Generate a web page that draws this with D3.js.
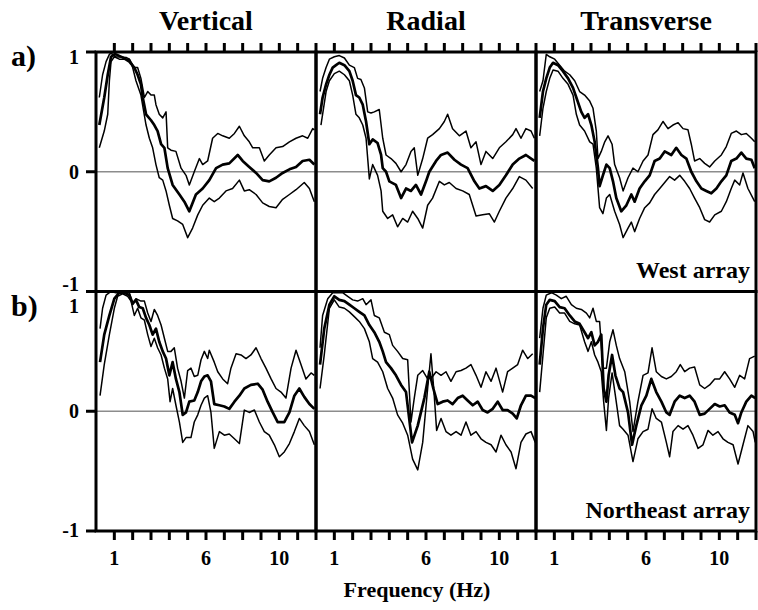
<!DOCTYPE html>
<html>
<head>
<meta charset="utf-8">
<script src="https://cdn.jsdelivr.net/npm/d3@7"></script>
<style>
  html, body { margin: 0; padding: 0; background: #fff; }
  svg { display: block; }
  text { font-family: "Liberation Serif", "Times New Roman", serif; font-weight: bold; fill: #000; }
</style>
</head>
<body>
<svg id="chart" width="758" height="610"></svg>
<script>
// ---------- categories & ticks ----------
const components = ["Vertical", "Radial", "Transverse"];
const arrays = ["West array", "Northeast array"];
const rowLabels = ["a)", "b)"];
const freqTicks = [1, 2, 3, 4, 5, 6, 7, 8, 9, 10, 11, 12];
const freqTickLabels = [1, 6, 10];
const corrTicks = [1, 0, -1];
const xAxisTitle = "Frequency (Hz)";

// ---------- data: [frequency Hz, correlation] ----------
// West array, Vertical
const westVerticalMean = [[0.18,0.39],[0.45,0.62],[0.64,0.81],[0.82,0.96],[1.0,0.98],[1.09,0.98],[1.45,0.955],[1.82,0.92],[2.09,0.87],[2.27,0.81],[2.45,0.73],[2.55,0.62],[2.73,0.48],[3.0,0.43],[3.18,0.39],[3.36,0.34],[3.55,0.23],[3.73,0.20],[3.91,0.03],[4.18,-0.11],[4.55,-0.19],[4.82,-0.25],[5.09,-0.33],[5.45,-0.19],[5.82,-0.14],[6.18,-0.07],[6.55,0.03],[6.91,0.06],[7.27,0.07],[7.73,0.14],[8.0,0.09],[8.36,0.04],[8.73,-0.01],[9.09,-0.07],[9.45,-0.08],[9.82,-0.05],[10.18,-0.01],[10.55,0.02],[10.91,0.04],[11.27,0.09],[11.64,0.10],[11.91,0.06]];
const westVerticalUpper = [[0.18,0.62],[0.36,0.81],[0.55,0.92],[0.73,0.98],[0.82,0.99],[1.09,0.96],[1.64,0.955],[1.82,0.94],[2.09,0.87],[2.27,0.87],[2.45,0.78],[2.64,0.62],[2.82,0.67],[3.0,0.64],[3.18,0.64],[3.27,0.56],[3.45,0.48],[3.64,0.45],[3.82,0.50],[3.91,0.20],[4.09,0.18],[4.36,0.17],[4.64,0.03],[4.91,-0.03],[5.09,-0.11],[5.36,0.0],[5.64,0.11],[5.82,0.06],[6.09,0.09],[6.36,0.28],[6.64,0.32],[6.91,0.30],[7.27,0.28],[7.55,0.32],[7.82,0.38],[8.09,0.30],[8.36,0.25],[8.55,0.20],[8.91,0.20],[9.18,0.09],[9.45,0.14],[9.82,0.20],[10.18,0.21],[10.55,0.25],[10.91,0.28],[11.27,0.30],[11.55,0.28],[11.82,0.36],[11.91,0.35]];
const westVerticalLower = [[0.18,0.20],[0.45,0.34],[0.64,0.48],[0.73,0.76],[0.82,0.92],[1.0,0.96],[1.27,0.94],[1.82,0.94],[2.0,0.87],[2.18,0.76],[2.45,0.64],[2.73,0.39],[2.91,0.28],[3.09,0.20],[3.27,0.06],[3.45,-0.05],[3.64,-0.07],[3.82,-0.16],[4.0,-0.28],[4.18,-0.39],[4.45,-0.41],[4.73,-0.44],[5.0,-0.55],[5.27,-0.47],[5.55,-0.36],[5.82,-0.28],[6.18,-0.22],[6.45,-0.25],[6.73,-0.22],[7.09,-0.16],[7.45,-0.14],[7.82,-0.07],[8.09,-0.16],[8.36,-0.15],[8.73,-0.19],[9.09,-0.26],[9.45,-0.29],[9.82,-0.30],[10.18,-0.23],[10.55,-0.19],[10.91,-0.15],[11.36,-0.09],[11.64,-0.14],[11.91,-0.25]];

// West array, Radial
const westRadialMean = [[0.22,0.48],[0.36,0.62],[0.55,0.73],[0.73,0.81],[0.91,0.87],[1.09,0.89],[1.27,0.91],[1.55,0.89],[1.82,0.84],[2.0,0.76],[2.18,0.64],[2.36,0.62],[2.55,0.56],[2.73,0.42],[2.91,0.23],[3.09,0.27],[3.36,0.24],[3.55,0.14],[3.64,0.03],[3.82,0.0],[4.0,-0.08],[4.36,-0.11],[4.64,-0.22],[4.91,-0.14],[5.18,-0.16],[5.45,-0.11],[5.73,-0.19],[6.0,-0.08],[6.18,0.0],[6.55,0.09],[6.82,0.14],[7.18,0.16],[7.55,0.10],[7.91,0.06],[8.27,0.03],[8.64,-0.08],[8.91,-0.14],[9.27,-0.12],[9.64,-0.16],[10.0,-0.11],[10.36,-0.03],[10.73,0.06],[11.09,0.11],[11.45,0.14],[11.91,0.09]];
const westRadialUpper = [[0.22,0.67],[0.36,0.78],[0.55,0.87],[0.73,0.94],[1.0,0.96],[1.27,0.97],[1.55,0.95],[1.82,0.89],[2.09,0.87],[2.27,0.78],[2.45,0.77],[2.64,0.70],[2.82,0.50],[3.0,0.49],[3.18,0.50],[3.45,0.52],[3.64,0.28],[3.82,0.14],[4.09,0.11],[4.36,0.07],[4.64,0.0],[4.91,0.06],[5.18,0.17],[5.36,0.20],[5.55,-0.03],[5.82,0.11],[6.09,0.28],[6.36,0.31],[6.73,0.36],[7.0,0.42],[7.18,0.48],[7.45,0.36],[7.82,0.30],[8.18,0.34],[8.45,0.20],[8.73,0.25],[9.0,0.06],[9.27,0.17],[9.64,0.11],[10.0,0.20],[10.36,0.25],[10.73,0.31],[10.91,0.36],[11.18,0.28],[11.45,0.36],[11.73,0.34],[11.91,0.28]];
const westRadialLower = [[0.27,0.39],[0.55,0.67],[0.73,0.76],[1.0,0.82],[1.27,0.84],[1.55,0.81],[1.82,0.76],[2.0,0.64],[2.18,0.48],[2.36,0.45],[2.55,0.39],[2.73,0.28],[2.91,-0.06],[3.09,0.06],[3.36,-0.03],[3.55,-0.16],[3.64,-0.33],[3.91,-0.39],[4.18,-0.36],[4.45,-0.46],[4.73,-0.39],[5.0,-0.42],[5.27,-0.33],[5.55,-0.39],[5.82,-0.47],[6.09,-0.28],[6.36,-0.22],[6.73,-0.08],[7.0,-0.11],[7.27,-0.09],[7.64,-0.14],[8.0,-0.16],[8.36,-0.19],[8.73,-0.37],[9.09,-0.36],[9.45,-0.35],[9.73,-0.42],[10.0,-0.33],[10.36,-0.22],[10.73,-0.14],[11.09,-0.04],[11.45,-0.07],[11.82,-0.14]];

// West array, Transverse
const westTransverseMean = [[0.2,0.45],[0.38,0.67],[0.56,0.78],[0.75,0.87],[0.93,0.91],[1.2,0.89],[1.47,0.84],[1.75,0.78],[2.02,0.70],[2.2,0.62],[2.47,0.50],[2.65,0.45],[2.84,0.48],[3.02,0.39],[3.2,0.25],[3.38,0.03],[3.47,-0.12],[3.65,-0.03],[3.84,0.06],[4.02,0.03],[4.2,-0.08],[4.38,-0.22],[4.65,-0.33],[4.93,-0.28],[5.2,-0.19],[5.38,-0.25],[5.65,-0.14],[5.93,-0.08],[6.2,-0.03],[6.47,0.09],[6.75,0.11],[7.02,0.17],[7.38,0.14],[7.65,0.20],[7.93,0.14],[8.2,0.11],[8.47,0.0],[8.75,-0.08],[9.02,-0.14],[9.29,-0.16],[9.56,-0.18],[9.84,-0.14],[10.11,-0.08],[10.38,-0.03],[10.65,0.09],[10.93,0.11],[11.2,0.16],[11.47,0.11],[11.75,0.10],[11.93,0.03]];
const westTransverseUpper = [[0.2,0.67],[0.38,0.76],[0.56,0.98],[0.75,0.96],[1.02,0.94],[1.29,0.89],[1.56,0.84],[1.84,0.81],[2.11,0.76],[2.38,0.67],[2.65,0.64],[2.93,0.59],[3.11,0.53],[3.29,0.34],[3.38,0.11],[3.56,0.17],[3.75,0.25],[3.93,0.30],[4.15,0.23],[4.29,0.06],[4.56,-0.05],[4.75,-0.16],[5.02,-0.05],[5.29,0.03],[5.56,0.0],[5.84,0.09],[6.11,0.14],[6.38,0.31],[6.65,0.35],[6.93,0.42],[7.2,0.36],[7.47,0.39],[7.75,0.41],[8.02,0.36],[8.29,0.35],[8.47,0.23],[8.65,0.09],[8.93,0.11],[9.2,0.07],[9.47,0.04],[9.75,0.09],[10.11,0.14],[10.38,0.21],[10.65,0.32],[10.93,0.34],[11.2,0.31],[11.47,0.32],[11.75,0.28],[11.93,0.25]];
const westTransverseLower = [[0.2,0.30],[0.38,0.53],[0.56,0.67],[0.75,0.78],[0.93,0.85],[1.2,0.84],[1.47,0.78],[1.75,0.73],[2.02,0.64],[2.2,0.48],[2.38,0.39],[2.65,0.34],[2.93,0.25],[3.11,0.23],[3.29,0.03],[3.47,-0.30],[3.65,-0.35],[3.84,-0.22],[4.02,-0.19],[4.29,-0.33],[4.56,-0.44],[4.75,-0.55],[5.02,-0.47],[5.2,-0.42],[5.38,-0.50],[5.65,-0.39],[5.93,-0.30],[6.2,-0.26],[6.47,-0.19],[6.75,-0.14],[7.02,-0.09],[7.29,-0.04],[7.56,-0.07],[7.84,-0.03],[8.11,-0.08],[8.38,-0.14],[8.65,-0.22],[8.93,-0.30],[9.2,-0.40],[9.47,-0.42],[9.75,-0.36],[10.11,-0.33],[10.38,-0.25],[10.65,-0.14],[10.84,-0.07],[11.11,-0.11],[11.29,-0.01],[11.56,-0.14],[11.93,-0.25]];

// Northeast array, Vertical
const northeastVerticalMean = [[0.22,0.41],[0.45,0.64],[0.73,0.80],[1.0,0.94],[1.27,0.99],[1.55,0.99],[1.82,0.97],[2.0,0.90],[2.18,0.93],[2.36,0.87],[2.55,0.86],[2.73,0.78],[2.91,0.72],[3.09,0.64],[3.27,0.69],[3.45,0.58],[3.64,0.50],[3.82,0.44],[4.0,0.30],[4.18,0.41],[4.36,0.27],[4.55,0.16],[4.73,-0.03],[4.91,-0.01],[5.09,0.08],[5.36,0.09],[5.55,0.16],[5.73,0.25],[5.91,0.29],[6.09,0.30],[6.27,0.25],[6.45,0.06],[6.73,0.05],[7.0,0.04],[7.27,0.02],[7.55,0.08],[7.82,0.13],[8.09,0.19],[8.45,0.22],[8.82,0.23],[9.09,0.18],[9.36,0.08],[9.64,-0.01],[9.91,-0.09],[10.27,-0.09],[10.55,-0.01],[10.82,0.13],[11.09,0.19],[11.36,0.12],[11.64,0.06],[11.91,0.02]];
const northeastVerticalUpper = [[0.22,0.69],[0.36,0.86],[0.55,0.97],[0.82,1.0],[1.09,0.99],[1.82,0.99],[2.0,0.89],[2.18,0.94],[2.45,0.92],[2.64,0.92],[2.82,0.82],[3.0,0.75],[3.18,0.85],[3.36,0.80],[3.55,0.72],[3.73,0.61],[3.91,0.50],[4.09,0.50],[4.27,0.53],[4.45,0.36],[4.64,0.25],[4.82,0.11],[5.0,0.34],[5.18,0.36],[5.36,0.29],[5.55,0.30],[5.73,0.43],[5.91,0.50],[6.09,0.44],[6.18,0.51],[6.45,0.41],[6.64,0.33],[6.91,0.27],[7.18,0.23],[7.36,0.36],[7.64,0.48],[7.91,0.47],[8.18,0.44],[8.45,0.47],[8.73,0.53],[9.0,0.44],[9.27,0.36],[9.55,0.27],[9.82,0.19],[10.09,0.16],[10.36,0.11],[10.64,0.36],[10.91,0.51],[11.18,0.39],[11.45,0.27],[11.73,0.32],[11.91,0.30]];
const northeastVerticalLower = [[0.22,0.13],[0.45,0.39],[0.73,0.64],[1.0,0.86],[1.18,0.96],[1.45,0.98],[1.73,0.96],[1.91,0.92],[2.09,0.80],[2.27,0.86],[2.45,0.78],[2.64,0.76],[2.82,0.64],[3.0,0.54],[3.18,0.61],[3.36,0.53],[3.55,0.47],[3.73,0.36],[3.91,0.27],[4.04,0.08],[4.18,0.19],[4.36,0.05],[4.55,-0.09],[4.73,-0.26],[4.91,-0.22],[5.18,-0.22],[5.36,-0.09],[5.55,-0.03],[5.73,0.05],[5.91,0.11],[6.09,0.13],[6.27,-0.01],[6.45,-0.31],[6.73,-0.17],[7.0,-0.20],[7.27,-0.19],[7.55,-0.23],[7.82,-0.27],[8.09,0.01],[8.36,-0.01],[8.64,0.01],[8.91,-0.09],[9.18,-0.17],[9.45,-0.20],[9.73,-0.28],[10.0,-0.38],[10.27,-0.34],[10.55,-0.27],[10.82,-0.17],[11.09,-0.06],[11.36,-0.12],[11.64,-0.17],[11.91,-0.28]];

// Northeast array, Radial
const northeastRadialMean = [[0.22,0.39],[0.45,0.69],[0.73,0.89],[1.0,0.96],[1.27,0.93],[1.55,0.92],[1.82,0.89],[2.09,0.86],[2.36,0.83],[2.64,0.80],[2.91,0.72],[3.18,0.66],[3.45,0.58],[3.64,0.50],[3.82,0.41],[4.09,0.36],[4.36,0.30],[4.64,0.22],[4.91,0.16],[5.24,-0.26],[5.55,-0.12],[5.91,0.11],[6.18,0.33],[6.4,0.19],[6.64,0.06],[6.91,0.08],[7.18,0.09],[7.45,0.06],[7.73,0.11],[8.0,0.13],[8.27,0.09],[8.55,0.05],[8.82,0.08],[9.09,0.01],[9.36,-0.01],[9.64,0.02],[9.91,0.08],[10.18,0.01],[10.45,0.01],[10.73,-0.02],[10.95,-0.06],[11.18,0.05],[11.45,0.13],[11.73,0.13],[11.96,0.11]];
const northeastRadialUpper = [[0.22,0.53],[0.36,0.80],[0.64,0.94],[0.91,0.99],[1.18,0.99],[1.45,0.99],[1.73,0.96],[2.0,0.93],[2.27,0.92],[2.55,0.94],[2.73,0.89],[3.0,0.93],[3.18,0.80],[3.45,0.78],[3.73,0.66],[4.0,0.64],[4.18,0.55],[4.45,0.50],[4.73,0.44],[5.0,0.43],[5.18,-0.09],[5.36,0.11],[5.55,0.30],[5.82,0.34],[6.09,0.27],[6.36,0.29],[6.55,0.33],[6.82,0.30],[7.09,0.33],[7.36,0.25],[7.64,0.33],[7.91,0.34],[8.18,0.36],[8.45,0.39],[8.73,0.30],[9.0,0.20],[9.27,0.33],[9.55,0.25],[9.82,0.36],[10.18,0.16],[10.45,0.33],[10.73,0.36],[11.0,0.39],[11.27,0.51],[11.55,0.44],[11.82,0.48]];
const northeastRadialLower = [[0.22,0.19],[0.45,0.47],[0.73,0.86],[1.0,0.93],[1.27,0.87],[1.55,0.86],[1.82,0.83],[2.09,0.79],[2.36,0.75],[2.64,0.69],[2.91,0.58],[3.09,0.44],[3.36,0.41],[3.64,0.33],[3.91,0.19],[4.18,0.11],[4.45,-0.03],[4.73,-0.10],[5.0,-0.20],[5.27,-0.40],[5.55,-0.49],[5.82,-0.26],[6.09,0.19],[6.27,0.48],[6.45,0.13],[6.58,-0.16],[6.82,-0.06],[7.09,-0.17],[7.36,-0.20],[7.64,-0.17],[7.91,-0.20],[8.18,-0.09],[8.45,-0.20],[8.73,-0.17],[9.0,-0.23],[9.27,-0.26],[9.55,-0.28],[9.82,-0.34],[10.09,-0.20],[10.36,-0.28],[10.64,-0.34],[10.91,-0.48],[11.18,-0.26],[11.45,-0.19],[11.73,-0.17],[11.96,-0.26]];

// Northeast array, Transverse
const northeastTransverseMean = [[0.2,0.39],[0.38,0.69],[0.56,0.89],[0.75,0.93],[1.02,0.92],[1.29,0.87],[1.56,0.86],[1.84,0.80],[2.11,0.75],[2.38,0.73],[2.65,0.66],[2.84,0.61],[3.02,0.66],[3.2,0.55],[3.38,0.58],[3.56,0.64],[3.69,0.19],[3.84,0.08],[3.96,0.30],[4.15,0.47],[4.33,0.30],[4.56,0.19],[4.75,0.16],[5.02,-0.01],[5.24,-0.28],[5.47,-0.12],[5.75,0.05],[6.02,0.13],[6.29,0.27],[6.56,0.16],[6.84,0.08],[7.11,-0.01],[7.29,-0.03],[7.56,0.08],[7.84,0.13],[8.11,0.11],[8.38,0.13],[8.65,0.08],[8.93,-0.03],[9.2,-0.02],[9.47,0.02],[9.75,0.06],[10.02,0.04],[10.29,0.05],[10.56,-0.01],[10.84,-0.03],[11.02,-0.10],[11.2,-0.01],[11.47,0.08],[11.75,0.13],[11.96,0.11]];
const northeastTransverseUpper = [[0.2,0.61],[0.38,0.86],[0.56,0.97],[0.84,0.99],[1.11,0.97],[1.38,0.94],[1.65,0.96],[1.93,0.89],[2.2,0.86],[2.47,0.85],[2.75,0.82],[2.93,0.78],[3.11,0.86],[3.29,0.75],[3.47,0.75],[3.65,0.36],[3.84,0.36],[4.02,0.58],[4.2,0.68],[4.38,0.55],[4.56,0.44],[4.84,0.33],[5.11,0.08],[5.29,-0.17],[5.56,0.08],[5.84,0.30],[6.11,0.32],[6.33,0.53],[6.56,0.33],[6.84,0.29],[7.11,0.27],[7.38,0.29],[7.65,0.33],[7.87,0.39],[8.11,0.33],[8.38,0.36],[8.65,0.37],[8.93,0.22],[9.2,0.19],[9.47,0.22],[9.75,0.27],[10.02,0.27],[10.29,0.33],[10.56,0.27],[10.84,0.20],[11.11,0.30],[11.38,0.27],[11.65,0.44],[11.93,0.46]];
const northeastTransverseLower = [[0.2,0.16],[0.38,0.47],[0.56,0.78],[0.75,0.86],[1.02,0.87],[1.29,0.82],[1.56,0.82],[1.84,0.75],[2.11,0.73],[2.38,0.72],[2.65,0.58],[2.84,0.50],[3.02,0.58],[3.2,0.47],[3.38,0.41],[3.56,0.33],[3.69,0.08],[3.84,-0.16],[3.96,0.11],[4.15,0.32],[4.33,0.13],[4.56,-0.12],[4.75,-0.15],[5.02,-0.20],[5.29,-0.42],[5.56,-0.23],[5.84,-0.17],[6.11,-0.15],[6.33,0.02],[6.56,-0.06],[6.84,-0.09],[7.11,-0.26],[7.29,-0.38],[7.47,-0.17],[7.75,-0.12],[8.02,-0.15],[8.29,-0.12],[8.56,-0.20],[8.84,-0.31],[9.11,-0.28],[9.38,-0.16],[9.65,-0.20],[9.93,-0.17],[10.2,-0.23],[10.47,-0.26],[10.75,-0.28],[11.02,-0.44],[11.29,-0.28],[11.56,-0.12],[11.84,-0.17],[11.96,-0.26]];

// ---------- assemble panels ----------
const panels = [
  {row: 0, col: 0, mean: westVerticalMean, upper: westVerticalUpper, lower: westVerticalLower},
  {row: 0, col: 1, mean: westRadialMean, upper: westRadialUpper, lower: westRadialLower},
  {row: 0, col: 2, mean: westTransverseMean, upper: westTransverseUpper, lower: westTransverseLower},
  {row: 1, col: 0, mean: northeastVerticalMean, upper: northeastVerticalUpper, lower: northeastVerticalLower},
  {row: 1, col: 1, mean: northeastRadialMean, upper: northeastRadialUpper, lower: northeastRadialLower},
  {row: 1, col: 2, mean: northeastTransverseMean, upper: northeastTransverseUpper, lower: northeastTransverseLower}
];

// ---------- layout ----------
const plotLeft = 96, plotTop = 52, pw = 220, ph = 239.5;
const svg = d3.select("#chart");

function xScale(col) {
  return d3.scaleLinear().domain([0, 12]).range([plotLeft + col * pw, plotLeft + (col + 1) * pw]);
}
function yScale(row) {
  return d3.scaleLinear().domain([-1, 1]).range([plotTop + (row + 1) * ph, plotTop + row * ph]);
}

const defs = svg.append("defs");

panels.forEach((p, i) => {
  const x = xScale(p.col), y = yScale(p.row);
  const x0 = x.range()[0], x1 = x.range()[1];
  const yTop = y.range()[1], yBot = y.range()[0];
  defs.append("clipPath").attr("id", "clip" + i)
    .append("rect").attr("x", x0).attr("y", yTop).attr("width", x1 - x0).attr("height", yBot - yTop);

  const g = svg.append("g");
  g.append("line")
    .attr("x1", x0).attr("x2", x1).attr("y1", y(0)).attr("y2", y(0))
    .attr("stroke", "#8c8c8c").attr("stroke-width", 1.3);

  const line = d3.line().x(d => x(d[0])).y(d => y(d[1]));
  const cg = g.append("g").attr("clip-path", "url(#clip" + i + ")");
  [[p.upper, 1.5], [p.lower, 1.5], [p.mean, 2.7]].forEach(([data, w]) => {
    cg.append("path").datum(data)
      .attr("d", line)
      .attr("fill", "none").attr("stroke", "#000")
      .attr("stroke-width", w).attr("stroke-linejoin", "round");
  });
});

// frames
panels.forEach(p => {
  const x = xScale(p.col), y = yScale(p.row);
  svg.append("rect")
    .attr("x", x.range()[0]).attr("y", y.range()[1])
    .attr("width", pw).attr("height", ph)
    .attr("fill", "none").attr("stroke", "#000").attr("stroke-width", 3);
});

// top and bottom frequency ticks
components.forEach((c, col) => {
  const x = xScale(col);
  const yT = yScale(0).range()[1];
  const yB = yScale(1).range()[0];
  freqTicks.forEach(f => {
    svg.append("line").attr("x1", x(f)).attr("x2", x(f))
      .attr("y1", yT - 9).attr("y2", yT).attr("stroke", "#000").attr("stroke-width", 3);
    svg.append("line").attr("x1", x(f)).attr("x2", x(f))
      .attr("y1", yB).attr("y2", yB + 9).attr("stroke", "#000").attr("stroke-width", 3);
  });
  freqTickLabels.forEach(f => {
    svg.append("text").attr("x", x(f)).attr("y", yB + 34)
      .attr("text-anchor", "middle").attr("font-size", 20).text(f);
  });
  svg.append("text").attr("x", (x.range()[0] + x.range()[1]) / 2).attr("y", 30)
    .attr("text-anchor", "middle").attr("font-size", 28).text(c);
});

// y ticks and labels
arrays.forEach((a, row) => {
  const y = yScale(row);
  const xl = xScale(0).range()[0];
  corrTicks.forEach(v => {
    svg.append("line").attr("x1", xl - 10).attr("x2", xl)
      .attr("y1", y(v)).attr("y2", y(v)).attr("stroke", "#000").attr("stroke-width", 3);
    let dy = 7;
    if (v === 1) dy = row === 0 ? 12 : 21;
    if (v === -1) dy = row === 0 ? -1 : 6;
    svg.append("text").attr("x", xl - 17).attr("y", y(v) + dy)
      .attr("text-anchor", "end").attr("font-size", 20).text(v);
  });
  svg.append("text").attr("x", 11).attr("y", y(1) + (row === 0 ? 14 : 24))
    .attr("font-size", 30).text(rowLabels[row]);
  svg.append("text").attr("x", xScale(2).range()[1] - 6).attr("y", y(-1) - (row === 0 ? 14 : 13))
    .attr("text-anchor", "end").attr("font-size", 24).text(a);
});

svg.append("text").attr("x", 417).attr("y", 597)
  .attr("text-anchor", "middle").attr("font-size", 22).text(xAxisTitle);
</script>
</body>
</html>
